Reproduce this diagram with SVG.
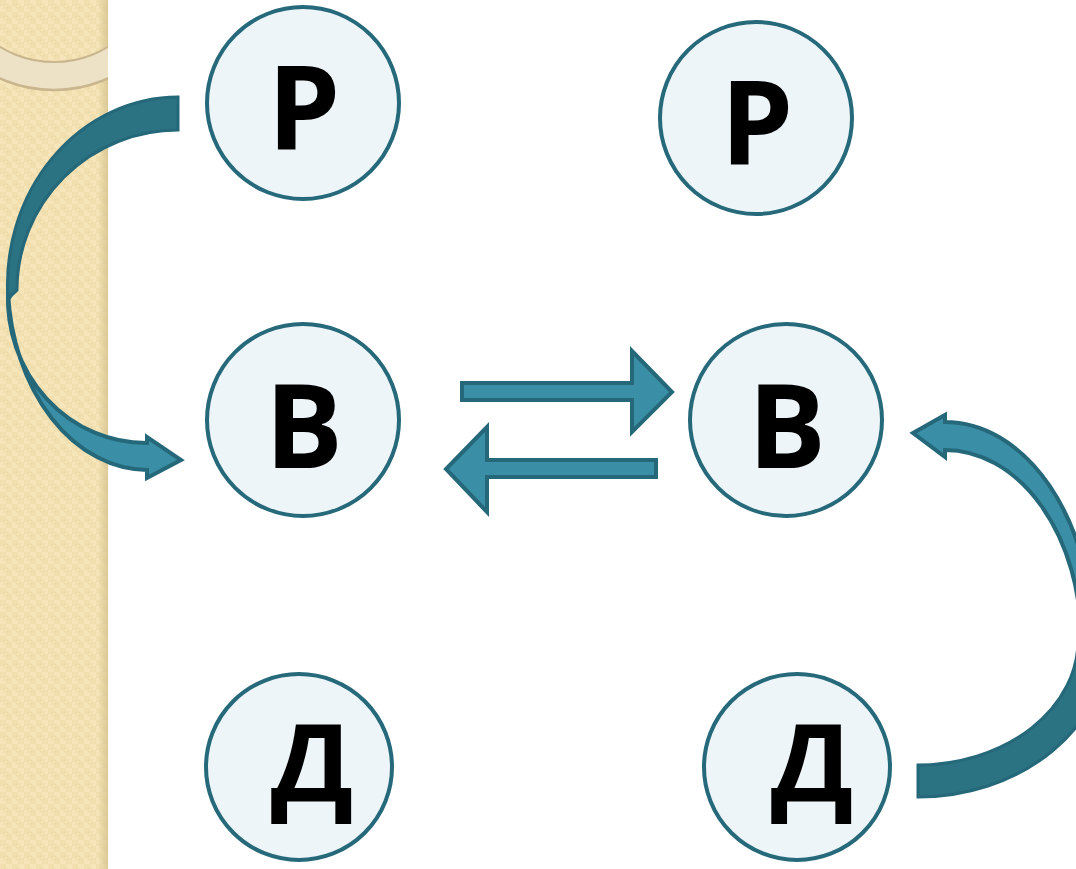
<svg xmlns="http://www.w3.org/2000/svg" width="1076" height="869" viewBox="0 0 1076 869">
  <defs>
    <pattern id="dots" width="12" height="12" patternUnits="userSpaceOnUse">
      <rect width="12" height="12" fill="#F5E5B8"/>
      <rect width="6" height="6" fill="#F1DFAF"/>
      <rect x="6" y="6" width="6" height="6" fill="#F1DFAF"/>
      <circle cx="6" cy="6" r="2.2" fill="none" stroke="#EAD7A5" stroke-width="0.8"/>
    </pattern>
    <linearGradient id="stripShade" x1="0" y1="0" x2="1" y2="0">
      <stop offset="0" stop-color="#D9C592" stop-opacity="0"/>
      <stop offset="1" stop-color="#D9C592" stop-opacity="0.9"/>
    </linearGradient>
    <clipPath id="stripClip"><rect x="0" y="0" width="108" height="869"/></clipPath>
  </defs>
  <style>
    .node circle { fill: #EDF5F8; stroke: #26697A; stroke-width: 4; }
    .node text { font-family: "Open Sans", "Noto Sans", "DejaVu Sans", sans-serif; font-weight: 700; font-size: 116px; fill: #000; text-anchor: middle; }
    .node text.small { font-size: 108px; }
    .light { fill: #3A8FA6; stroke: #25687A; stroke-width: 4; }
    .dark { fill: #2B7282; stroke: #25687A; stroke-width: 3; }
  </style>

  <g id="background">
    <rect x="0" y="0" width="1076" height="869" fill="#FFFFFF"/>
    <rect x="0" y="0" width="108" height="869" fill="url(#dots)"/>
    <rect x="98" y="0" width="10" height="869" fill="url(#stripShade)"/>
    <g clip-path="url(#stripClip)">
      <circle cx="54" cy="-42" r="118" fill="none" stroke="#EDE2C6" stroke-width="28"/>
      <circle cx="54" cy="-42" r="104" fill="none" stroke="#C9B68E" stroke-width="2"/>
      <circle cx="54" cy="-42" r="132" fill="none" stroke="#C9B68E" stroke-width="2.5"/>
    </g>
  </g>

  <g id="connectors">
    <!-- left curved arrow: Р -> В -->
    <path class="dark" d="M178,97 A171,188 0 0 0 8,300 Q11,295 17,290 A161,160 0 0 1 178,130 Z"/>
    <path class="light" d="M8,292 A140,190 0 0 0 147,470 L147,478 L181,460 L147,437 L147,443 A138,145 0 0 1 8,292 Z"/>
    <!-- straight arrows between В nodes -->
    <path class="light" d="M462,383 L632,383 L632,351 L672,392 L632,432 L632,400 L462,400 Z"/>
    <path class="light" d="M656,460 L487,460 L487,427 L446,469 L487,512 L487,477 L656,477 Z"/>
    <!-- right curved arrow: Д -> В -->
    <path class="dark" d="M918,797 A190,157 0 0 0 1108,640 L1078,640 A160,125 0 0 1 918,765 Z"/>
    <path class="light" d="M945,450 L945,457 L913,433 L945,415 L945,422 A148,218 0 0 1 1093,640 L1081,640 A136,190 0 0 0 945,450 Z"/>
  </g>

  <g id="node-r1" class="node">
    <circle cx="303" cy="103" r="96"/>
    <text x="304" y="150">Р</text>
  </g>
  <g id="node-r2" class="node">
    <circle cx="756" cy="118" r="96"/>
    <text x="757" y="165">Р</text>
  </g>
  <g id="node-v1" class="node">
    <circle cx="303" cy="420" r="96"/>
    <text x="304" y="468">В</text>
  </g>
  <g id="node-v2" class="node">
    <circle cx="786" cy="420" r="96"/>
    <text x="787" y="468">В</text>
  </g>
  <g id="node-d1" class="node">
    <circle cx="299" cy="767" r="93"/>
    <text class="small" x="312" y="802">Д</text>
  </g>
  <g id="node-d2" class="node">
    <circle cx="797" cy="767" r="93"/>
    <text class="small" x="812" y="802">Д</text>
  </g>
</svg>
